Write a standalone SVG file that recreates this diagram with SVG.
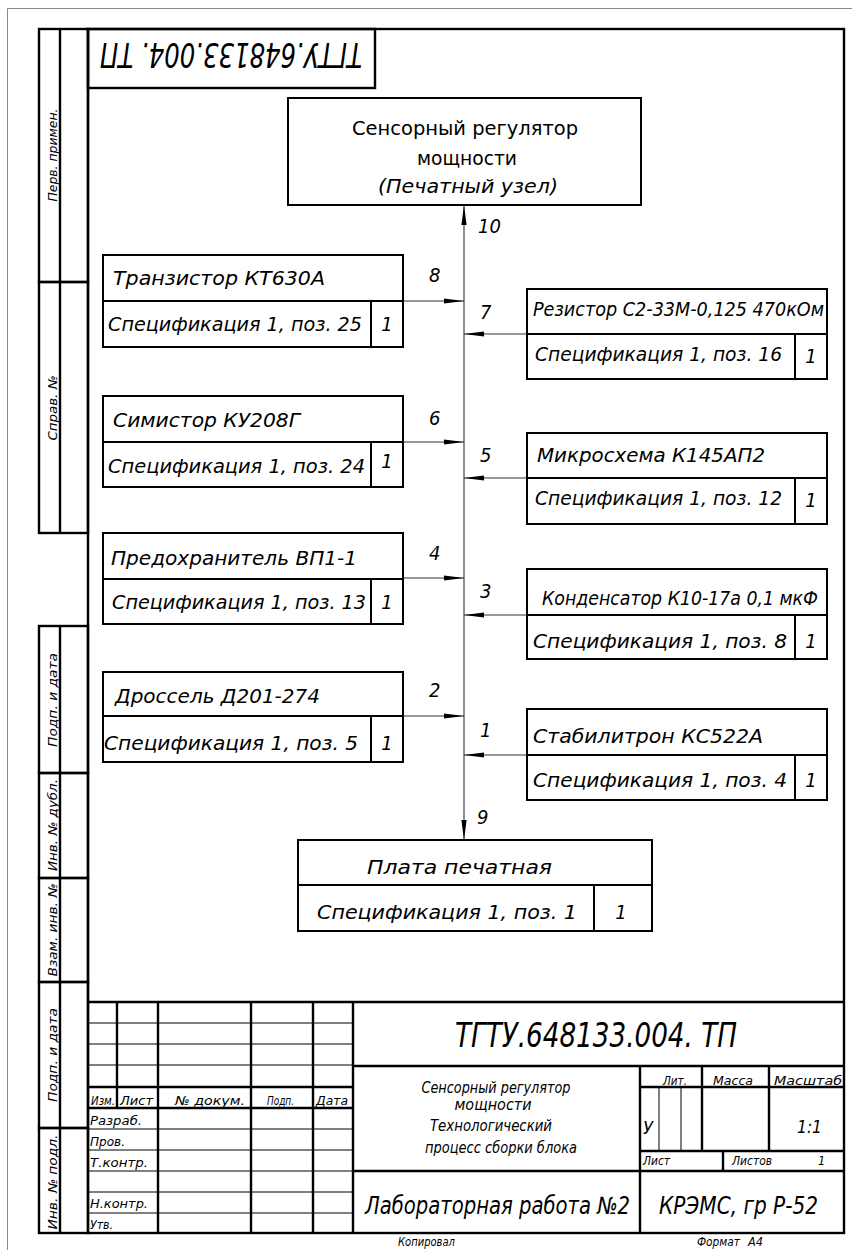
<svg xmlns="http://www.w3.org/2000/svg" width="852" height="1250" viewBox="0 0 852 1250">
<style>
text{font-family:"DejaVu Sans Condensed","DejaVu Sans",sans-serif;fill:#000}
.it{font-style:italic}
.lb{font-size:20px;font-style:italic}
.up{font-size:20px}
.num{font-size:20px;font-style:italic}
.sv{font-size:12px;font-style:italic}
.tb{font-size:12.5px;font-style:italic}
.box{fill:#fff;stroke:#000;stroke-width:2}
.thk{stroke:#000;stroke-width:2.4;fill:none}
.thn{stroke:#000;stroke-width:1;fill:none}
.con{stroke:#333;stroke-width:1.1;fill:none}
</style>
<defs>
<marker id="ah" markerWidth="21" markerHeight="6" refX="20" refY="3" orient="auto" markerUnits="userSpaceOnUse">
<path d="M0,0.4 L20,3 L0,5.6 z" fill="#000"/>
</marker>
</defs>
<rect width="852" height="1250" fill="#fff"/>
<path d="M7.5,1250 V8.5 H852" stroke="#888" stroke-width="1" fill="none"/>

<g id="frame">
<rect x="88" y="29" width="756" height="1204" class="thk"/>
<g class="thk">
<rect x="39" y="29" width="49" height="253"/>
<rect x="39" y="282" width="49" height="251"/>
<rect x="39" y="626" width="49" height="147"/>
<rect x="39" y="773" width="49" height="105"/>
<rect x="39" y="878" width="49" height="104"/>
<rect x="39" y="982" width="49" height="146"/>
<rect x="39" y="1128" width="49" height="105"/>
<path d="M60,29 V533 M60,626 V1233"/>
</g>
<text class="sv" transform="translate(57,155) rotate(-90)" text-anchor="middle" textLength="93" lengthAdjust="spacingAndGlyphs">Перв. примен.</text>
<text class="sv" transform="translate(57,408) rotate(-90)" text-anchor="middle" textLength="65" lengthAdjust="spacingAndGlyphs">Справ. №</text>
<text class="sv" transform="translate(57,700) rotate(-90)" text-anchor="middle" textLength="94" lengthAdjust="spacingAndGlyphs">Подп. и дата</text>
<text class="sv" transform="translate(57,825) rotate(-90)" text-anchor="middle" textLength="92" lengthAdjust="spacingAndGlyphs">Инв. № дубл.</text>
<text class="sv" transform="translate(57,930) rotate(-90)" text-anchor="middle" textLength="93" lengthAdjust="spacingAndGlyphs">Взам. инв. №</text>
<text class="sv" transform="translate(57,1055) rotate(-90)" text-anchor="middle" textLength="94" lengthAdjust="spacingAndGlyphs">Подп. и дата</text>
<text class="sv" transform="translate(57,1182) rotate(-90)" text-anchor="middle" textLength="95" lengthAdjust="spacingAndGlyphs">Инв. № подл.</text>
<rect x="88" y="29" width="287" height="59" class="thk"/>
<text class="it" font-size="34" transform="rotate(180 231 58)" x="231" y="73" text-anchor="middle" textLength="262" lengthAdjust="spacingAndGlyphs">ТГТУ.648133.004. ТП</text>
</g>

<g id="titleblock">
<g class="thk">
<path d="M88,1002 H844 M353,1002 V1233 M117,1002 V1108 M158,1002 V1233 M251,1002 V1233 M313,1002 V1233"/>
<path d="M88,1087 H353 M88,1108 H353"/>
<path d="M353,1066 H844 M353,1171 H844 M640,1066 V1233 M640,1087 H844 M640,1151 H844 M702,1066 V1151 M769,1066 V1151 M723,1151 V1171"/>
</g>
<g class="thn">
<path d="M88,1023 H353 M88,1044 H353 M88,1065 H353 M88,1129 H353 M88,1150 H353 M88,1171 H353 M88,1192 H353 M88,1213 H353"/>
<path d="M659,1087 V1151 M681,1087 V1151"/>
</g>
<text class="tb" x="91" y="1105" textLength="24" lengthAdjust="spacingAndGlyphs">Изм.</text>
<text class="tb" x="120" y="1105" textLength="33" lengthAdjust="spacingAndGlyphs">Лист</text>
<text class="tb" x="175" y="1105" textLength="70" lengthAdjust="spacingAndGlyphs">№ докум.</text>
<text class="tb" x="267" y="1105" textLength="27" lengthAdjust="spacingAndGlyphs">Подп.</text>
<text class="tb" x="316" y="1105" textLength="32" lengthAdjust="spacingAndGlyphs">Дата</text>
<text class="tb" x="90" y="1125" textLength="52" lengthAdjust="spacingAndGlyphs">Разраб.</text>
<text class="tb" x="90" y="1146" textLength="35" lengthAdjust="spacingAndGlyphs">Пров.</text>
<text class="tb" x="90" y="1167" textLength="58" lengthAdjust="spacingAndGlyphs">Т.контр.</text>
<text class="tb" x="90" y="1208" textLength="58" lengthAdjust="spacingAndGlyphs">Н.контр.</text>
<text class="tb" x="90" y="1229" textLength="23" lengthAdjust="spacingAndGlyphs">Утв.</text>
<text class="it" font-size="34" x="455" y="1047" textLength="282" lengthAdjust="spacingAndGlyphs">ТГТУ.648133.004. ТП</text>
<text class="it" font-size="15" x="496" y="1093" text-anchor="middle" textLength="149" lengthAdjust="spacingAndGlyphs">Сенсорный регулятор</text>
<text class="it" font-size="15" x="493" y="1110" text-anchor="middle" textLength="77" lengthAdjust="spacingAndGlyphs">мощности</text>
<text class="it" font-size="15" x="491" y="1131" text-anchor="middle" textLength="122" lengthAdjust="spacingAndGlyphs">Технологический</text>
<text class="it" font-size="15" x="501" y="1153" text-anchor="middle" textLength="152" lengthAdjust="spacingAndGlyphs">процесс сборки блока</text>
<text class="it" font-size="24" x="365" y="1214" textLength="265" lengthAdjust="spacingAndGlyphs">Лабораторная работа №2</text>
<text class="it" font-size="24" x="659" y="1214" textLength="159" lengthAdjust="spacingAndGlyphs">КРЭМС, гр Р-52</text>
<text class="tb" x="663" y="1085" textLength="24" lengthAdjust="spacingAndGlyphs">Лит.</text>
<text class="tb" x="713" y="1085" textLength="40" lengthAdjust="spacingAndGlyphs">Масса</text>
<text class="tb" x="774" y="1085" textLength="68" lengthAdjust="spacingAndGlyphs">Масштаб</text>
<text class="it" font-size="18" x="643" y="1134">У</text>
<text class="it" font-size="18" x="797" y="1133" textLength="25" lengthAdjust="spacingAndGlyphs">1:1</text>
<text class="tb" x="643" y="1165" textLength="27" lengthAdjust="spacingAndGlyphs">Лист</text>
<text class="tb" x="732" y="1165" textLength="40" lengthAdjust="spacingAndGlyphs">Листов</text>
<text class="tb" x="818" y="1165">1</text>
<text class="tb" x="398" y="1246" textLength="57" lengthAdjust="spacingAndGlyphs">Копировал</text>
<text class="tb" x="697" y="1246" textLength="43" lengthAdjust="spacingAndGlyphs">Формат</text>
<text class="tb" x="748" y="1246" textLength="15" lengthAdjust="spacingAndGlyphs">А4</text>
</g>

<g id="connectors">
<line x1="464" y1="520" x2="464" y2="205" class="con" marker-end="url(#ah)"/>
<line x1="464" y1="520" x2="464" y2="840" class="con" marker-end="url(#ah)"/>
<line x1="403" y1="301" x2="464" y2="301" class="con" marker-end="url(#ah)"/>
<line x1="403" y1="442" x2="464" y2="442" class="con" marker-end="url(#ah)"/>
<line x1="403" y1="578" x2="464" y2="578" class="con" marker-end="url(#ah)"/>
<line x1="403" y1="716" x2="464" y2="716" class="con" marker-end="url(#ah)"/>
<line x1="527" y1="334" x2="464" y2="334" class="con" marker-end="url(#ah)"/>
<line x1="527" y1="478" x2="464" y2="478" class="con" marker-end="url(#ah)"/>
<line x1="527" y1="615" x2="464" y2="615" class="con" marker-end="url(#ah)"/>
<line x1="527" y1="755" x2="464" y2="755" class="con" marker-end="url(#ah)"/>
<text class="num" x="478" y="233">10</text>
<text class="num" x="429" y="282">8</text>
<text class="num" x="480" y="319">7</text>
<text class="num" x="429" y="425">6</text>
<text class="num" x="480" y="462">5</text>
<text class="num" x="429" y="560">4</text>
<text class="num" x="480" y="598">3</text>
<text class="num" x="429" y="697">2</text>
<text class="num" x="480" y="737">1</text>
<text class="num" x="477" y="824">9</text>
</g>

<g id="node-top">
<rect x="288" y="98" width="353" height="107" class="box"/>
<text class="up" x="352" y="135" textLength="226" lengthAdjust="spacingAndGlyphs">Сенсорный регулятор</text>
<text class="up" x="417" y="165" textLength="100" lengthAdjust="spacingAndGlyphs">мощности</text>
<text class="lb" x="378" y="193" textLength="180" lengthAdjust="spacingAndGlyphs">(Печатный узел)</text>
</g>

<g id="node-transistor">
<rect x="103" y="255" width="300" height="92" class="box"/>
<path d="M103,301 H403 M371,301 V347" class="box"/>
<text class="lb" x="113" y="285" textLength="212" lengthAdjust="spacingAndGlyphs">Транзистор КТ630А</text>
<text class="lb" x="108" y="331" textLength="254" lengthAdjust="spacingAndGlyphs">Спецификация 1, поз. 25</text>
<text class="lb" x="387" y="331" text-anchor="middle">1</text>
</g>

<g id="node-simistor">
<rect x="103" y="396" width="300" height="91" class="box"/>
<path d="M103,442 H403 M371,442 V487" class="box"/>
<text class="lb" x="113" y="427" textLength="187" lengthAdjust="spacingAndGlyphs">Симистор КУ208Г</text>
<text class="lb" x="108" y="473" textLength="257" lengthAdjust="spacingAndGlyphs">Спецификация 1, поз. 24</text>
<text class="lb" x="387" y="468" text-anchor="middle">1</text>
</g>

<g id="node-fuse">
<rect x="103" y="533" width="300" height="91" class="box"/>
<path d="M103,579 H403 M371,579 V624" class="box"/>
<text class="lb" x="111" y="565" textLength="246" lengthAdjust="spacingAndGlyphs">Предохранитель ВП1-1</text>
<text class="lb" x="112" y="609" textLength="254" lengthAdjust="spacingAndGlyphs">Спецификация 1, поз. 13</text>
<text class="lb" x="387" y="609" text-anchor="middle">1</text>
</g>

<g id="node-choke">
<rect x="103" y="672" width="300" height="90" class="box"/>
<path d="M103,716 H403 M371,716 V762" class="box"/>
<text class="lb" x="115" y="703" textLength="205" lengthAdjust="spacingAndGlyphs">Дроссель Д201-274</text>
<text class="lb" x="104" y="750" textLength="254" lengthAdjust="spacingAndGlyphs">Спецификация 1, поз. 5</text>
<text class="lb" x="387" y="750" text-anchor="middle">1</text>
</g>

<g id="node-resistor">
<rect x="527" y="289" width="300" height="90" class="box"/>
<path d="M527,334 H827 M795,334 V379" class="box"/>
<text class="lb" x="533" y="316" textLength="291" lengthAdjust="spacingAndGlyphs">Резистор С2-33М-0,125 470кОм</text>
<text class="lb" x="535" y="361" textLength="247" lengthAdjust="spacingAndGlyphs">Спецификация 1, поз. 16</text>
<text class="lb" x="811" y="363" text-anchor="middle">1</text>
</g>

<g id="node-chip">
<rect x="527" y="433" width="300" height="91" class="box"/>
<path d="M527,478 H827 M795,478 V524" class="box"/>
<text class="lb" x="537" y="462" textLength="228" lengthAdjust="spacingAndGlyphs">Микросхема К145АП2</text>
<text class="lb" x="535" y="505" textLength="247" lengthAdjust="spacingAndGlyphs">Спецификация 1, поз. 12</text>
<text class="lb" x="811" y="507" text-anchor="middle">1</text>
</g>

<g id="node-capacitor">
<rect x="527" y="569" width="300" height="90" class="box"/>
<path d="M527,615 H827 M795,615 V659" class="box"/>
<text class="lb" x="542" y="605" textLength="276" lengthAdjust="spacingAndGlyphs">Конденсатор К10-17а 0,1 мкФ</text>
<text class="lb" x="533" y="648" textLength="254" lengthAdjust="spacingAndGlyphs">Спецификация 1, поз. 8</text>
<text class="lb" x="811" y="648" text-anchor="middle">1</text>
</g>

<g id="node-zener">
<rect x="527" y="709" width="300" height="91" class="box"/>
<path d="M527,755 H827 M795,755 V800" class="box"/>
<text class="lb" x="533" y="743" textLength="230" lengthAdjust="spacingAndGlyphs">Стабилитрон КС522А</text>
<text class="lb" x="533" y="787" textLength="254" lengthAdjust="spacingAndGlyphs">Спецификация 1, поз. 4</text>
<text class="lb" x="811" y="787" text-anchor="middle">1</text>
</g>

<g id="node-board">
<rect x="298" y="840" width="354" height="91" class="box"/>
<path d="M298,885 H652 M594,885 V931" class="box"/>
<text class="lb" x="367" y="874" textLength="185" lengthAdjust="spacingAndGlyphs">Плата печатная</text>
<text class="lb" x="317" y="919" textLength="260" lengthAdjust="spacingAndGlyphs">Спецификация  1, поз. 1</text>
<text class="lb" x="621" y="919" text-anchor="middle">1</text>
</g>
</svg>
